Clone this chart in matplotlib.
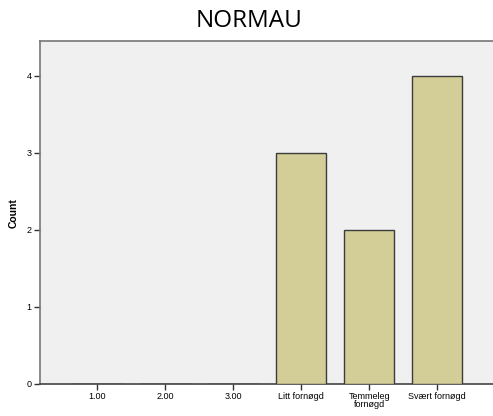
import matplotlib
matplotlib.use('Agg')
import matplotlib.pyplot as plt

categories = ['1.00', '2.00', '3.00', 'Litt fornøgd', 'Temmeleg\nfornøgd', 'Svært fornøgd']
counts = [0, 0, 0, 3, 2, 4]
yticks = [0, 1, 2, 3, 4]

fig = plt.figure(figsize=(4.93, 4.16), dpi=100)
ax = fig.add_axes([0.081, 0.077, 0.919, 0.824])
ax.set_facecolor('#f0f0f0')

x = list(range(len(categories)))
ax.bar(x, counts, width=0.74, color='#d3ce98', edgecolor='#3c3c3c', linewidth=1, zorder=3)

ax.set_xlim(-0.84, 5.82)
ax.set_ylim(0, 4.45)
ax.set_xticks(x)
ax.set_xticklabels(categories, fontsize=6.5, family='Liberation Sans', linespacing=0.85)
ax.set_yticks(yticks)
ax.set_yticklabels([str(v) for v in yticks], fontsize=6.5, family='Liberation Sans')
ax.tick_params(axis='both', length=4, width=1, color='#333333', pad=2)
ax.set_ylabel('Count', fontsize=7.5, fontweight='bold', family='Liberation Sans', labelpad=6)

for s in ['left', 'top', 'bottom']:
    ax.spines[s].set_color('#777777')
    ax.spines[s].set_linewidth(1.2)
ax.spines['bottom'].set_color('#444444')
ax.spines['right'].set_visible(False)

fig.suptitle('NORMAU', x=0.505, y=0.978, fontsize=17.5, family='Open Sans')

fig.savefig('out.png', dpi=100)
